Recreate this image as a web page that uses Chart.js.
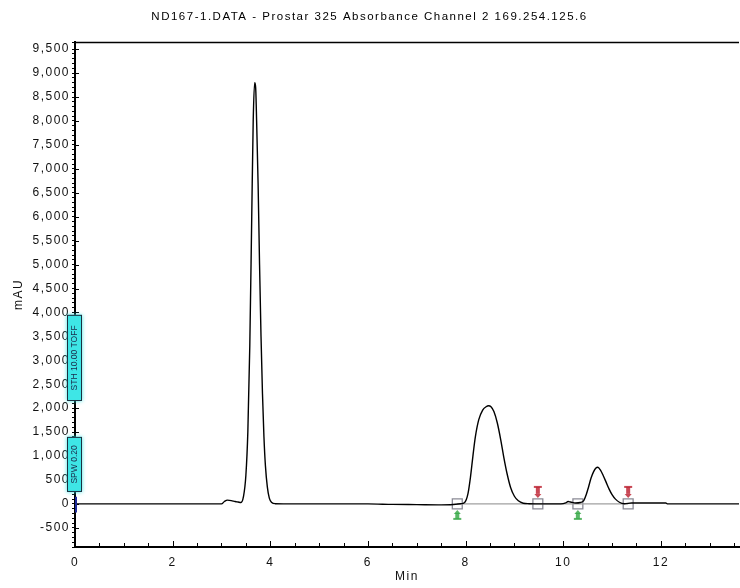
<!DOCTYPE html>
<html><head><meta charset="utf-8">
<script src="https://cdn.jsdelivr.net/npm/chart.js@4/dist/chart.umd.min.js"></script>
<style>html,body{margin:0;padding:0;background:#fff}canvas{display:block}</style>
</head><body>
<canvas id="c" width="740" height="588"></canvas>
<script>
const chartTitle = "ND167-1.DATA - Prostar 325 Absorbance Channel 2 169.254.125.6";
const xAxisLabel = "Min";
const yAxisLabel = "mAU";

// chromatogram trace (time in min, absorbance in mAU)
const timeMin = [0,0.5,1.0,1.5,2.0,2.5,3.0,3.06,3.12,3.2,3.28,3.34,3.40,3.45,3.50,3.54,3.58,3.62,3.65,3.68,3.70,3.72,3.75,3.78,3.81,3.84,3.87,3.90,3.94,3.98,4.03,4.10,4.5,5.0,5.5,6.0,6.5,7.0,7.5,7.90,7.98,8.05,8.10,8.15,8.20,8.27,8.35,8.42,8.47,8.52,8.58,8.65,8.72,8.78,8.85,8.92,9.00,9.08,9.18,9.30,9.6,9.95,10.05,10.10,10.15,10.25,10.35,10.42,10.47,10.52,10.57,10.62,10.67,10.71,10.76,10.82,10.88,10.94,11.00,11.07,11.15,11.25,11.40,12.10,12.14,13.0,13.6];
const absorbance = [0,0,0,0,0,0,0,50,80,70,50,40,30,150,600,1500,3300,6000,8000,8800,8700,8000,6700,5000,3500,2300,1400,800,350,120,30,5,0,0,0,0,-10,-15,-20,5,30,220,560,1000,1400,1760,1960,2030,2050,2030,1930,1690,1340,990,630,350,160,65,15,5,0,0,20,50,40,20,30,70,190,360,540,670,750,765,710,590,450,310,195,100,35,5,20,20,0,0,0];

// integration marks
const peakMarkTimes = [7.83, 9.48, 10.30, 11.33];
const peakMarkTypes = ["start", "end", "start", "end"];
const baselineTimes = [7.83, 11.33];

// timed events shown at t = 0
const eventLabels = ["STH 10.00 TOFF", "SPW 0.20"];
const eventTopMAU = [3950, 1400];
const eventBottomMAU = [2150, 250];

const SPACING = '1.5px';
const FONT = '"Liberation Sans", Arial, sans-serif';

const decor = {
  id: 'decor',
  beforeUpdate(c) { c.ctx.letterSpacing = SPACING; },
  beforeLayout(c) { c.ctx.letterSpacing = SPACING; },
  beforeDraw(c) { c.ctx.letterSpacing = SPACING; },
  afterDatasetsDraw(c) {
    const ctx = c.ctx, xs = c.scales.x, ys = c.scales.y;
    ctx.save();
    const py = ys.getPixelForValue(0);
    peakMarkTimes.forEach((t, i) => {
      const px = xs.getPixelForValue(t);
      if (peakMarkTypes[i] === 'start') {
        ctx.fillStyle = 'rgba(60,170,75,0.85)';
        ctx.beginPath();
        ctx.moveTo(px, py + 6); ctx.lineTo(px - 3.5, py + 10); ctx.lineTo(px + 3.5, py + 10); ctx.closePath();
        ctx.fill();
        ctx.fillRect(px - 2, py + 9, 4, 6);
        ctx.fillRect(px - 4, py + 14, 8, 2);
      } else {
        ctx.fillStyle = 'rgba(190,40,55,0.85)';
        ctx.fillRect(px - 4, py - 18, 8, 2);
        ctx.fillRect(px - 2, py - 17, 4, 7);
        ctx.beginPath();
        ctx.moveTo(px, py - 6); ctx.lineTo(px - 3.5, py - 10); ctx.lineTo(px + 3.5, py - 10); ctx.closePath();
        ctx.fill();
      }
    });
    ctx.restore();
  },
  afterDraw(c) {
    const ctx = c.ctx, xs = c.scales.x, ys = c.scales.y, a = c.chartArea;
    ctx.save();
    ctx.strokeStyle = '#000';
    // top frame line
    ctx.lineWidth = 1.5;
    ctx.beginPath(); ctx.moveTo(a.left, a.top + 0.5); ctx.lineTo(a.right, a.top + 0.5); ctx.stroke();
    // inward ticks on x
    ctx.lineWidth = 1;
    for (let t = 0; t <= xs.max + 1e-9; t += 0.5) {
      const px = Math.round(xs.getPixelForValue(t)) + 0.5;
      const len = (Math.abs(t % 2) < 1e-9) ? 6 : 4;
      ctx.beginPath(); ctx.moveTo(px, a.bottom); ctx.lineTo(px, a.bottom - len); ctx.stroke();
    }
    // inward major ticks on y
    for (let v = -500; v <= 9500; v += 500) {
      const py = Math.round(ys.getPixelForValue(v)) + 0.5;
      ctx.beginPath(); ctx.moveTo(a.left, py); ctx.lineTo(a.left + 4, py); ctx.stroke();
    }
    // blue marker on axis at zero
    ctx.strokeStyle = '#1c2a9a'; ctx.lineWidth = 2;
    ctx.beginPath();
    ctx.moveTo(a.left + 1, ys.getPixelForValue(150));
    ctx.lineTo(a.left + 1, ys.getPixelForValue(-180));
    ctx.stroke();
    // event boxes
    const x0 = xs.getPixelForValue(0);
    ctx.letterSpacing = '0px';
    eventLabels.forEach((lab, i) => {
      const top = ys.getPixelForValue(eventTopMAU[i]);
      const bot = ys.getPixelForValue(eventBottomMAU[i]);
      const left = x0 - 8, w = 15;
      ctx.save();
      ctx.shadowColor = 'rgba(40,230,230,0.9)';
      ctx.shadowBlur = 4;
      ctx.fillStyle = '#3ee6e6';
      ctx.fillRect(left, top, w, bot - top);
      ctx.restore();
      ctx.strokeStyle = '#1c3040'; ctx.lineWidth = 1;
      ctx.strokeRect(left + 0.5, top + 0.5, w - 1, bot - top - 1);
      ctx.save();
      ctx.translate(left + w / 2, (top + bot) / 2);
      ctx.rotate(-Math.PI / 2);
      ctx.fillStyle = '#1a2a4a';
      ctx.font = '8.5px ' + FONT;
      ctx.textAlign = 'center'; ctx.textBaseline = 'middle';
      ctx.fillText(lab, 0, 0.5);
      ctx.restore();
    });
    ctx.restore();
  }
};

const trace = timeMin.map((t, i) => ({ x: t, y: absorbance[i] }));

new Chart(document.getElementById('c'), {
  type: 'line',
  data: {
    datasets: [
      {
        label: 'trace', data: trace, borderColor: '#000', borderWidth: 1.4,
        pointRadius: 0, fill: false, cubicInterpolationMode: 'monotone'
      },
      {
        label: 'baseline', data: baselineTimes.map(t => ({ x: t, y: 0 })),
        borderColor: '#a0a0a0', borderWidth: 1.2, pointRadius: 0, fill: false
      },
      {
        label: 'marks', data: peakMarkTimes.map(t => ({ x: t, y: 0 })),
        showLine: false, pointStyle: 'rect', pointRadius: 7,
        borderColor: '#8a8a95', borderWidth: 1.3, backgroundColor: 'rgba(255,255,255,0.35)'
      }
    ]
  },
  options: {
    responsive: false, animation: false, devicePixelRatio: 1,
    layout: { autoPadding: false, padding: { left: 0, right: 1, top: 0, bottom: 0 } },
    plugins: {
      legend: { display: false }, tooltip: { enabled: false },
      title: {
        display: true, text: chartTitle, color: '#000',
        font: { family: FONT, size: 11.5, weight: 'normal', lineHeight: 1.2 },
        padding: { top: 10, bottom: 18.2 }
      }
    },
    scales: {
      x: {
        type: 'linear', min: 0, max: 13.6,
        afterFit(s) { s.height = 41; s.paddingLeft = 0; s.paddingRight = 0; },
        ticks: {
          stepSize: 0.5, autoSkip: false, maxRotation: 0, padding: 8, color: '#111',
          font: { family: FONT, size: 12 },
          callback: v => (Math.abs(v - Math.round(v)) < 1e-9 && Math.round(v) % 2 === 0) ? String(Math.round(v)) : ''
        },
        grid: { drawOnChartArea: false, drawTicks: false },
        border: { display: true, color: '#000', width: 2 },
        title: {
          display: true, text: xAxisLabel, color: '#111',
          font: { family: FONT, size: 12, lineHeight: 1.2 }, padding: { top: 0, bottom: 4 }
        }
      },
      y: {
        type: 'linear', min: -900, max: 9650,
        afterFit(s) { s.width = 75; s.paddingTop = 0; s.paddingBottom = 0; },
        ticks: {
          stepSize: 100, autoSkip: false, padding: 2, color: '#111',
          font: { family: FONT, size: 12 },
          callback: v => (Math.round(v) % 500 === 0) ? Math.round(v).toLocaleString('en-US') : ''
        },
        grid: { drawOnChartArea: false, drawTicks: true, tickLength: 3, color: '#000', tickWidth: 1 },
        border: { display: true, color: '#000', width: 2 },
        title: {
          display: true, text: yAxisLabel, color: '#111',
          font: { family: FONT, size: 12, lineHeight: 1.2 }, padding: { top: 11, bottom: 0 }
        }
      }
    }
  },
  plugins: [decor]
});
</script>
</body></html>
